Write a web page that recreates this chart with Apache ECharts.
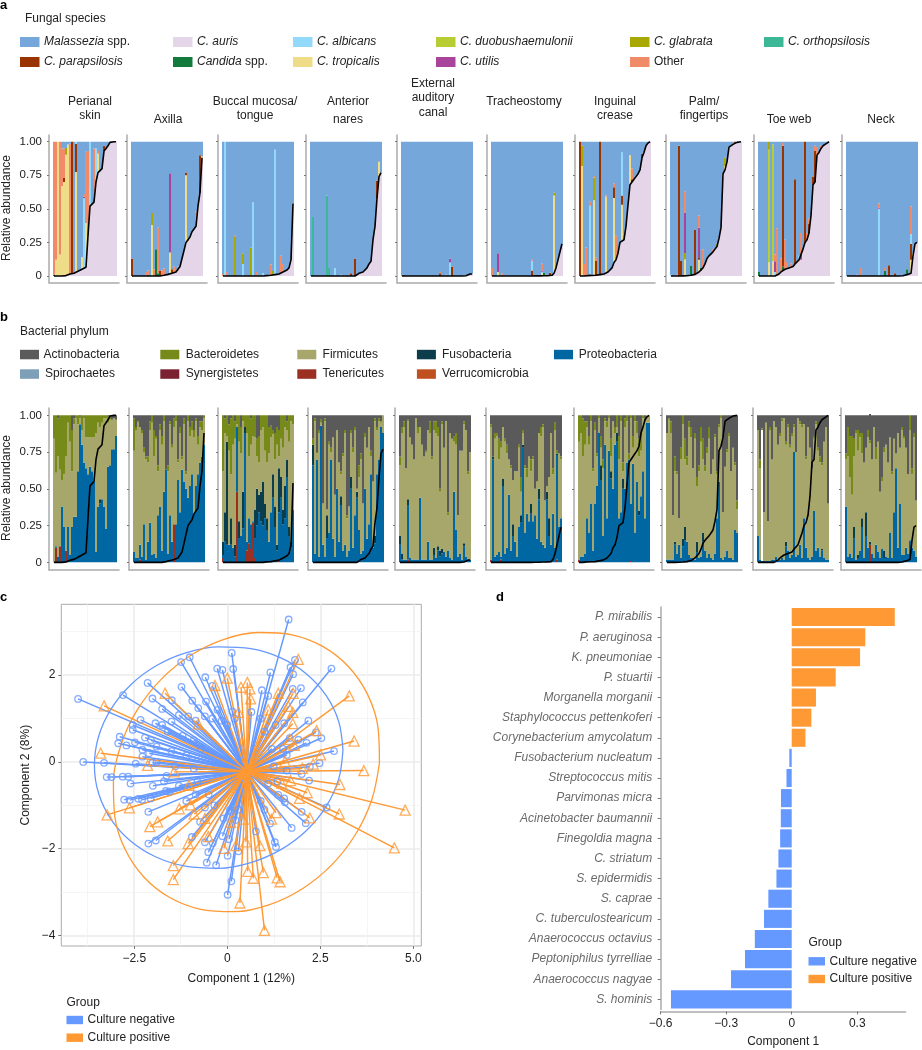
<!DOCTYPE html>
<html><head><meta charset="utf-8">
<style>html,body{margin:0;padding:0;background:#fff}#c{width:922px;height:1050px}</style>
<script src="https://cdn.jsdelivr.net/npm/echarts@6/dist/echarts.min.js"></script>
</head><body><div id="c"></div>
<script>
// ---------- DATA ----------
const siteNames = ['Perianal skin','Axilla','Buccal mucosa/tongue','Anterior nares','External auditory canal','Tracheostomy','Inguinal crease','Palm/fingertips','Toe web','Neck'];
// C. auris abundance per sample (sorted)
const aurisPerianal=[0,0,0,0,0,0,.003,.01,.015,.02,.02,.025,.035,.04,.05,.06,.065,.30,.52,.53,.55,.70,.77,.78,.80,.93,.95,.97,.995,1,1,1];
const aurisAxilla=[0,0,0,0,0,0,0,0,0,0,0,0,0,0,0,.003,.005,.008,.012,.015,.02,.03,.03,.04,.07,.13,.19,.25,.26,.29,.33,.35,.37,.52,.62,.88];
const aurisBuccal=[0,0,0,0,0,0,0,0,0,0,0,0,0,0,0,0,0,0,0,0,0,0,.003,.005,.005,.008,.01,.012,.015,.02,.03,.035,.045,.06,.12,.54];
const aurisNares=[0,0,0,0,0,0,0,0,0,0,0,0,0,0,0,0,0,0,0,0,0,0,0,.005,.02,.02,.03,.04,.06,.09,.11,.27,.37,.58,.74,.77];
const aurisEar=[0,0,0,0,0,0,0,0,0,0,0,0,0,0,0,0,0,0,0,0,0,0,0,0,0,0,0,0,0,0,0,0,.002,.008,.015,.015];
const aurisTrach=[0,0,0,0,0,0,0,0,0,0,0,0,0,0,0,0,0,0,0,0,0,0,.001,.001,.001,.001,.002,.002,.003,.004,.005,.02,.06,.12,.18,.24];
const aurisGroin=[0,0,0,.002,.003,.003,.004,.004,.005,.007,.01,.012,.015,.02,.03,.04,.06,.10,.12,.17,.25,.26,.27,.37,.53,.68,.70,.72,.74,.76,.79,.88,.92,.97,.99,1];
const aurisPalm=[0,0,0,0,0,.001,.001,.002,.002,.003,.005,.008,.012,.02,.03,.04,.06,.09,.13,.15,.16,.18,.20,.22,.28,.36,.76,.79,.85,.96,.97,.98,.99,.995,1,1];
const aurisToe=[0,0,0,0,0,0,0,0,0,.005,.015,.03,.04,.05,.055,.06,.065,.07,.09,.10,.12,.12,.20,.25,.27,.32,.45,.68,.70,.90,.92,.95,.97,.98,.99,1];
const aurisNeck=[0,0,0,0,0,0,0,0,0,0,0,0,0,0,0,0,0,0,0,0,0,0,0,0,0,0,0,0,.002,.005,.01,.015,.02,.15,.24,.25];
// other fungal segments per sample: [sample, species code, abundance]
const fungiPerianal=[[0,'Ca',.01],[0,'Ot',.99],[1,'Tr',.12],[1,'Ot',.88],[2,'Tr',1],[3,'Tr',.16],[3,'Ot',.84],[4,'Tr',.67],[4,'Ot',.28],[5,'Tr',.70],[5,'Cp',.03],[5,'Ot',.22],[6,'Tr',.9],[6,'Gl',.05],[7,'Tr',.97],[8,'Ot',.97],[9,'Cp',.98],[11,'Tr',.75],[11,'Cp',.21],[11,'Al',.02],[14,'Tr',.09],[15,'Al',.52],[15,'Ut',.01],[15,'Ot',.02],[16,'Tr',.33],[16,'Ot',.53],[17,'Ot',.62],[17,'Gl',.01],[18,'Al',.48],[20,'Ot',.40],[21,'Al',.25],[22,'Tr',.14],[22,'Ot',.02],[25,'Cp',.04]];
const fungiAxilla=[[0,'Cp',.13],[7,'Ot',.03],[8,'Ot',.03],[8,'Ca',.01],[10,'Tr',.38],[10,'Gl',.09],[11,'Ot',.05],[12,'Ca',.20],[13,'Ca',.02],[13,'Ot',.34],[14,'Cp',.04],[15,'Ot',.04],[16,'Ot',.05],[19,'Tr',.16],[19,'Ut',.59],[20,'Cp',.03],[21,'Ot',.04],[23,'Ot',.03],[27,'Tr',.50],[27,'Cp',.02],[28,'Ot',.02],[32,'Ot',.11],[34,'Cp',.28],[35,'Tr',.01]];
const fungiBuccal=[[0,'Ot',.015],[1,'Al',1],[2,'Ot',.03],[6,'Gl',.29],[6,'Ot',.01],[10,'Al',.09],[10,'Gl',.08],[14,'Gl',.21],[15,'Al',.55],[17,'Ot',.03],[20,'Al',.02],[24,'Ot',.08],[25,'Gl',.03],[26,'Al',.93],[29,'Ot',.13],[30,'Ot',.06]];
const fungiNares=[[1,'Or',.44],[8,'Or',.60],[9,'Or',.06],[12,'Al',.06],[15,'Al',.01],[17,'Ot',.005],[20,'Cp',.02],[22,'Cp',.13],[33,'Cp',.13],[34,'Tr',.11]];
const fungiEar=[[1,'Cp',.01],[19,'Cp',.02],[19,'Ot',.01],[22,'Ot',.01],[24,'Al',.10],[24,'Ut',.03],[25,'Cp',.07],[25,'Ot',.005]];
const fungiTrach=[[0,'Ot',.06],[3,'Tr',.03],[3,'Ut',.14],[5,'Ot',.02],[20,'Cp',.04],[20,'Al',.07],[20,'Ot',.01],[25,'Tr',.02],[25,'Al',.01],[25,'Ut',.01],[25,'Ot',.05],[26,'Ca',.02],[27,'Cp',.01],[29,'Cp',.02],[31,'Tr',.58],[31,'Gl',.02]];
const fungiGroin=[[0,'Cp',1],[1,'Tr',.82],[1,'Gl',.15],[2,'Ot',.09],[3,'Ot',.21],[5,'Al',.51],[5,'Cp',.01],[5,'Ot',.03],[7,'Tr',.56],[7,'Gl',.17],[7,'Ot',.01],[8,'Cp',.11],[8,'Ot',.02],[10,'Cp',1],[13,'Tr',.57],[13,'Ot',.01],[17,'Tr',.48],[17,'Cp',.08],[17,'Ot',.03],[18,'Ot',.18],[21,'Tr',.27],[21,'Cp',.07],[21,'Al',.32],[24,'Ot',.05],[25,'Tr',.22],[26,'Ot',.08],[26,'Cp',.02],[31,'Cp',.03]];
const fungiPalm=[[0,'Al',.01],[3,'Ot',.01],[4,'Cp',.97],[5,'Cp',.11],[7,'Tr',.12],[7,'Gl',.05],[7,'Ut',.30],[7,'Ot',.16],[10,'Ca',.07],[12,'Cp',.33],[14,'Tr',.09],[14,'Cp',.02],[14,'Ut',.22],[14,'Ot',.09],[15,'Ca',.02],[16,'Ot',.14],[21,'Ot',.02],[23,'Gl',.02],[27,'Tr',.03],[27,'Gl',.06],[32,'Cp',.01]];
const fungiToe=[[0,'Ca',.03],[5,'Tr',.10],[5,'Du',.84],[5,'Gl',.06],[7,'Tr',.10],[7,'Al',.01],[7,'Du',.87],[8,'Al',.03],[8,'Ut',.08],[8,'Ot',.05],[9,'Ot',.35],[11,'Ot',.10],[12,'Ca',.03],[12,'Cp',.90],[12,'Ot',.02],[13,'Ot',.22],[14,'Ot',.05],[16,'Ot',.03],[18,'Cp',.63],[20,'Al',.03],[21,'Ut',.04],[21,'Ot',.16],[23,'Cp',.75],[24,'Ot',.05],[25,'Cp',.07],[25,'Ot',.04],[27,'Cp',.06],[28,'Cp',.23],[28,'Ot',.04],[29,'Ot',.06],[31,'Ot',.02]];
const fungiNeck=[[5,'Ot',.01],[7,'Ot',.06],[16,'Al',.50],[16,'Ut',.01],[16,'Ot',.03],[19,'Ca',.04],[19,'Ot',.02],[21,'Cp',.08],[22,'Ut',.01],[24,'Cp',.02],[30,'Ca',.04],[32,'Tr',.10],[32,'Cp',.12],[32,'Al',.07],[32,'Ot',.21],[33,'Tr',.02]];
const fungalSpecies=[['Au','C. auris','#E4D5E8'],['Ca','Candida spp.','#127A3A'],['Or','C. orthopsilosis','#3CB896'],['Tr','C. tropicalis','#EEDC88'],['Cp','C. parapsilosis','#993300'],['Al','C. albicans','#92D9FB'],['Du','C. duobushaemulonii','#B8CC33'],['Gl','C. glabrata','#A8A800'],['Ut','C. utilis','#A8449A'],['Ot','Other','#F08A68'],['Ma','Malassezia spp.','#75A7DA']];

// bacterial: top of Proteobacteria, Firmicutes, Bacteroidetes per sample (%); Actinobacteria fills the rest
const protPerianal=[0,11,4,11,38,24,8,24,5,24,31,31,62,94,80,68,64,60,65,62,55,7,38,43,43,38,23,65,66,77,77,86];
const firmPerianal=[84,61,72,63,56,60,72,95,82,62,94,98,94,98,90,98,85,85,85,85,85,88,95,92,95,98,98,95,97,97,98,97];
const bactPerianal=[100,100,98,100,100,100,100,100,100,90,98,100,100,99,100,100,100,100,100,100,100,100,100,100,100,100,100,99,99,97,98,97];
const protAxilla=[7,3,3,12,4,26,2,14,27,5,6,3,32,38,8,48,63,6,32,14,26,26,56,34,63,55,50,44,52,60,33,52,60,68,72,80];
const firmAxilla=[76,90,95,92,88,75,70,68,90,95,72,84,62,90,80,96,58,62,94,78,92,96,68,88,70,94,60,96,86,90,85,96,80,92,90,98];
const bactAxilla=[98,92,96,92,90,78,72,72,96,100,90,86,66,94,86,100,60,66,96,80,98,100,70,92,72,98,62,100,92,96,90,98,86,96,96,100];
const protBuccal=[14,34,82,12,30,10,12,92,28,18,48,92,14,30,26,28,36,50,46,48,55,40,30,14,34,60,38,12,64,58,36,52,70,24,14,36];
const firmBuccal=[62,88,86,76,60,80,84,94,82,74,96,84,88,72,80,86,85,72,68,90,92,76,68,74,85,87,70,80,72,84,78,92,90,82,96,94];
const bactBuccal=[100,98,100,94,98,100,96,100,100,92,100,100,100,100,98,100,100,84,86,100,100,100,100,92,93,90,88,92,90,100,100,100,96,100,100,100];
const protNares=[80,6,70,4,93,12,4,32,20,70,16,4,50,14,45,8,12,4,8,58,10,32,48,22,6,8,50,16,26,60,10,18,60,70,92,88];
const firmNares=[80,96,74,88,95,40,96,36,80,75,85,46,90,68,60,72,88,30,38,88,75,90,50,58,70,40,85,78,92,72,55,96,90,96,95,100];
const bactNares=[84,98,75,90,97,40,98,36,82,78,85,46,90,68,62,74,90,32,38,90,78,92,50,66,74,40,88,78,92,76,55,98,92,98,96,100];
const protEar=[18,6,2,2,43,3,2,2,2,2,44,2,2,2,14,2,2,10,3,11,8,9,7,4,8,3,2,48,22,4,6,2,13,4,2,2];
const firmEar=[66,88,92,64,96,85,80,70,98,88,92,80,72,75,90,88,70,90,88,86,48,94,78,96,32,88,84,82,80,32,76,76,94,90,60,75];
const bactEar=[72,92,96,64,97,85,80,70,98,92,92,80,72,76,90,96,72,96,96,92,50,96,78,96,34,88,84,86,88,32,76,76,96,90,62,75];
const protTrach=[2,72,4,5,7,4,57,6,10,46,8,26,14,4,24,32,80,20,33,28,40,28,32,16,50,14,12,10,48,30,12,33,10,74,24,30];
const firmTrach=[92,72,84,86,70,78,92,82,74,70,64,56,62,62,78,48,88,64,58,72,62,70,50,55,88,86,92,42,52,58,88,60,90,74,74,70];
const bactTrach=[94,72,88,88,84,82,92,84,80,70,66,56,62,62,80,58,90,66,64,72,70,72,50,55,88,92,94,42,52,58,88,64,95,76,74,72];
const protGroin=[2,4,4,6,30,20,40,8,40,52,88,66,18,80,30,76,62,50,80,88,30,34,57,50,68,70,40,67,20,55,35,45,62,30,95,95];
const firmGroin=[82,88,72,80,92,80,96,62,90,72,98,78,64,96,92,98,72,96,88,92,70,96,62,92,96,70,98,78,96,88,72,76,98,96,100,100];
const bactGroin=[100,100,98,96,96,86,100,64,95,74,100,86,70,98,96,100,84,96,92,100,86,100,68,98,100,74,100,86,100,96,84,86,100,98,100,100];
const protPalm=[2,2,2,2,14,6,12,3,16,24,14,5,3,3,2,14,3,4,20,8,3,6,3,2,6,30,55,3,2,4,8,3,3,2,22,20];
const firmPalm=[88,97,88,32,62,60,30,70,94,70,66,92,85,64,84,52,62,82,70,62,74,84,60,70,85,60,92,98,34,65,75,86,62,78,66,36];
const bactPalm=[88,98,96,32,72,62,30,78,100,84,72,96,92,64,88,58,66,92,84,66,78,92,60,70,87,62,94,100,34,65,77,88,62,78,68,42];
const protToe=[18,2,1,1,1,1,1,2,2,4,1,2,3,2,14,8,3,5,75,4,5,12,3,30,10,3,2,4,35,8,10,4,9,3,2,2];
const firmToe=[90,64,90,34,95,28,90,70,96,92,80,86,96,98,80,92,78,86,92,75,98,94,92,94,70,92,78,64,84,94,76,68,66,82,92,40];
const bactToe=[90,70,91,34,95,28,92,70,96,92,80,88,98,98,82,94,80,88,94,75,98,96,94,94,72,92,78,64,86,96,78,72,68,82,92,40];
const protNeck=[38,4,6,3,24,2,5,8,30,3,34,10,13,6,3,12,7,3,9,8,4,3,20,3,34,64,10,40,5,5,10,6,15,10,8,4];
const firmNeck=[70,72,58,46,72,88,76,85,74,68,78,85,80,70,92,70,82,48,55,75,80,68,85,60,84,74,88,78,90,84,78,60,90,60,85,42];
const bactNeck=[74,92,86,86,84,90,90,88,88,68,78,90,82,70,92,78,82,48,58,78,80,68,85,62,84,74,88,78,92,86,78,60,100,64,88,42];
// sparse minor phyla: [sample, %] ; Fusobacteria sit on top of the Proteobacteria block, red phyla at the base
const fusoBySite=[[[23,3]],[],[[0,9],[1,20],[2,70],[4,18],[6,8],[8,12],[10,25],[11,4],[16,20],[17,25],[18,12],[19,20],[20,30],[21,10],[22,8],[25,16],[26,14],[27,4],[28,30],[29,14],[30,10],[31,22],[32,12],[33,6],[34,4]],[[0,14],[7,16],[14,6],[19,8],[22,4],[31,5]],[[0,6],[1,4],[4,4],[17,5],[19,3],[20,4],[21,3],[32,2]],[[1,2],[6,5],[11,8],[15,5],[16,2],[20,7],[24,7],[29,12],[28,5],[33,1]],[[11,10],[16,5],[19,6],[22,7],[30,3]],[[4,2],[8,5],[9,9],[15,7],[18,6]],[[14,3],[32,1]],[[4,8],[6,2],[8,6],[10,16],[12,2],[19,5]]];
const redBySite=[[[1,10],[3,11],[6,8]],[[3,2],[20,26]],[[0,3],[7,48],[12,8],[13,13],[14,9],[15,27],[16,3],[28,2]],[],[[4,2]],[[0,2],[5,2],[33,2]],[[0,2],[26,1]],[],[],[[12,12]]];
// samples whose Firmicutes band is blank in the source figure: [site, sample]
const blankBands=[[8,2]];
const bacterialPhyla=[['Tenericutes','#9A2F22'],['Proteobacteria','#0067A3'],['Fusobacteria','#0B3D4C'],['Firmicutes','#A7A76B'],['Bacteroidetes','#768A1A'],['Actinobacteria','#5A5A5A']];

// panel c
const raysCentre=[.52,-.22];
const negativeScores=[[1.65,3.28],[.12,2.51],[-1.01,2.41],[-1.24,2.30],[-.27,2.15],[-.13,2.12],[.16,2.14],[1.82,2.35],[1.70,2.18],[2.80,2.15],[1.77,2.02],[1.16,2.06],[-.59,1.95],[-2.14,1.82],[-1.23,1.73],[-.40,1.75],[.93,1.65],[1.76,1.68],[1.98,1.70],[-2.80,1.54],[-4.01,1.45],[-2.01,1.46],[-1.49,1.42],[-.94,1.41],[-.57,1.39],[1.10,1.52],[2.03,1.37],[-1.75,1.22],[-.78,1.24],[-.26,1.20],[.14,1.16],[-1.30,1.08],[-2.33,.97],[-1.50,.93],[-2.54,.85],[-1.93,.89],[-2.54,.74],[2.18,.95],[1.53,.89],[2.38,.68],[-2.89,.58],[-2.21,.56],[2.53,.55],[-2.93,.43],[-2.71,.38],[-2.48,.45],[1.68,.55],[1.91,.51],[2.13,.44],[-2.28,.28],[-2.28,.12],[2.87,.25],[1.60,.16],[-3.87,0],[-3.31,-.02],[-2.46,-.04],[-2.01,-.02],[2.48,-.03],[2.22,-.11],[2.00,-.28],[-3.24,-.35],[-3.11,-.35],[-2.81,-.34],[-2.66,-.34],[-2.60,-.50],[-1.63,-.32],[2.20,-.43],[-2.77,-.87],[-2.62,-.88],[-2.39,-.85],[-2.29,-.87],[-2.06,-.84],[-1.65,-.67],[-2.12,-1.15],[1.37,-.76],[1.53,-.84],[1.55,-.93],[2.67,-1.05],[2.00,-1.15],[2.11,-1.41],[1.73,-1.52],[1.15,-1.42],[-.73,-1.38],[.22,-1.34],[.07,-1.11],[.77,-1.60],[-.95,-1.73],[-.13,-1.71],[.05,-1.78],[-1.92,-1.81],[-2.12,-1.88],[-.60,-1.85],[-.39,-1.87],[1.28,-1.85],[1.31,-1.96],[.30,-2.06],[-.51,-2.08],[.01,-2.16],[-.55,-2.32],[-.30,-2.38],[.11,-2.75],[.01,-3.06],[-1.05,1.05],[-.85,.95],[-.6,1.05],[-.4,1.0],[-.15,.95],[0,.85],[-1.6,.7],[-1.2,.6],[-.9,.5],[-1.9,.35],[-1.5,.25],[-1.1,.15],[-1.9,0],[-1.4,-.1],[-.9,-.15],[-1.7,-.45],[-1.3,-.55],[-.8,-.45],[-1.55,-.68],[-1.1,-.9],[-.85,-.75],[-.6,-1.05],[-.35,-1.0],[-.5,-.75],[-.1,-1.3],[.1,-1.15],[.3,-1.1],[1.0,.7],[1.3,.85],[1.2,.3],[1.5,.3],[1.25,-.1],[1.6,-.2],[1.1,-.5],[1.35,-.45],[.9,-.9],[1.0,-1.1],[.9,1.0],[.65,1.15],[.2,1.0],[-.7,.3],[-2.05,.5],[-2.1,.2],[-2.0,-.55],[-1.75,.85]];
const positiveScores=[[1.91,2.36],[0,1.93],[.54,1.83],[-.33,1.76],[.37,1.72],[.61,1.68],[-1.67,1.58],[3.28,1.52],[-3.31,1.29],[1.37,1.58],[1.77,1.58],[.63,1.45],[1.64,1.28],[1.76,1.14],[.30,1.14],[1.10,1.20],[1.76,.88],[-.78,.87],[2.40,.72],[3.41,.48],[1.68,.52],[1.80,.38],[-3.40,.20],[2.51,.16],[1.55,.01],[-2.14,-.08],[2.31,-.05],[2.02,-.15],[-1.43,-.23],[3.67,-.20],[3.03,-.52],[1.70,-.43],[1.46,-.49],[-1.03,-.54],[2.15,-.71],[1.94,-.84],[4.78,-1.11],[-2.63,-1.06],[-3.23,-1.22],[-1.29,-1.08],[-.99,-.99],[3.01,-1.20],[1.31,-1.17],[2.22,-1.29],[-.89,-1.20],[1.19,-1.32],[-1.87,-1.38],[-2.08,-1.49],[-.60,-1.30],[.09,-1.39],[.43,-1.32],[4.49,-1.98],[-1.60,-1.82],[-1.05,-1.88],[-.51,-1.72],[.50,-1.84],[.23,-1.93],[.88,-1.93],[-.09,-1.99],[-1.45,-2.39],[-1.45,-2.71],[.55,-2.52],[.97,-2.55],[.70,-2.68],[1.34,-2.67],[1.42,-2.76],[.34,-3.25],[1.00,-3.88]];
const negativeEllipse=[[3.11,.275],[2.996,.929],[2.66,1.527],[2.13,2.027],[1.44,2.396],[.635,2.608],[-.23,2.65],[-1.095,2.518],[-1.90,2.22],[-2.59,1.779],[-3.12,1.223],[-3.456,.591],[-3.57,-.075],[-3.456,-.729],[-3.12,-1.327],[-2.59,-1.827],[-1.90,-2.196],[-1.095,-2.408],[-.23,-2.45],[.635,-2.318],[1.44,-2.02],[2.13,-1.579],[2.66,-1.023],[2.996,-.391],[3.11,.275]];
const positiveEllipse=[[4.09,-.025],[4.05,.80],[3.77,1.555],[3.266,2.186],[2.576,2.654],[1.745,2.925],[.83,2.98],[-.107,2.817],[-1.0,2.444],[-1.79,1.89],[-2.423,1.191],[-2.856,.395],[-3.06,-.445],[-3.02,-1.271],[-2.739,-2.025],[-2.236,-2.656],[-1.546,-3.124],[-.715,-3.395],[.2,-3.45],[1.137,-3.287],[2.03,-2.914],[2.82,-2.36],[3.453,-1.661],[3.886,-.865],[4.09,-.025]];
// panel d
const taxa=['P. mirabilis','P. aeruginosa','K. pneumoniae','P. stuartii','Morganella morganii','Staphylococcus pettenkoferi','Corynebacterium amycolatum','Fusobacterium nucleatum','Streptococcus mitis','Parvimonas micra','Acinetobacter baumannii','Finegoldia magna','C. striatum','S. epidermidis','S. caprae','C. tuberculostearicum','Anaerococcus octavius','Peptoniphilus tyrrelliae','Anaerococcus nagyae','S. hominis'];
const loadings=[.472,.337,.313,.2015,.111,.09,.063,-.011,-.024,-.049,-.05,-.053,-.061,-.07,-.107,-.127,-.169,-.214,-.278,-.553];
const tickLabelsA=[0,.25,.5,.75,1];
const ticksCX=[-2.5,0,2.5,5], ticksCY=[-4,-2,0,2], ticksDX=[-.6,-.3,0,.3];
// ---------- STYLE / LAYOUT ----------
const FONT='"Liberation Sans",Arial,sans-serif', BLUE='#6699FF', ORANGE='#FF9933', AXIS='#ABABAB', INK='#222';
const aurisAll=[aurisPerianal,aurisAxilla,aurisBuccal,aurisNares,aurisEar,aurisTrach,aurisGroin,aurisPalm,aurisToe,aurisNeck];
const fungiAll=[fungiPerianal,fungiAxilla,fungiBuccal,fungiNares,fungiEar,fungiTrach,fungiGroin,fungiPalm,fungiToe,fungiNeck];
const protAll=[protPerianal,protAxilla,protBuccal,protNares,protEar,protTrach,protGroin,protPalm,protToe,protNeck];
const firmAll=[firmPerianal,firmAxilla,firmBuccal,firmNares,firmEar,firmTrach,firmGroin,firmPalm,firmToe,firmNeck];
const bactAll=[bactPerianal,bactAxilla,bactBuccal,bactNares,bactEar,bactTrach,bactGroin,bactPalm,bactToe,bactNeck];
const leftsA=[53,131,222,310,401,491,579,670,758,846], leftsB=[53,133,222,312,399,490,578,666,757,845];
const grids=[],xAxes=[],yAxes=[],series=[];
function stripPanel(fillLeft,fillW,n,top,h,first){
  const padR=first===true?1:2, idx=grids.length;
  grids.push({left:fillLeft-4,top,width:fillW+4+padR*2,height:h,containLabel:false});
  const cats=[]; for(let i=0;i<n+2+padR;i++)cats.push(i);
  xAxes.push({gridIndex:idx,type:'category',data:cats,boundaryGap:true,axisLine:{onZero:false,lineStyle:{color:AXIS,width:1.5}},axisTick:{show:false},axisLabel:{show:false},splitLine:{show:false}});
  yAxes.push({gridIndex:idx,type:'value',min:-0.05,max:1.05,axisLine:{show:true,onZero:false,lineStyle:{color:AXIS,width:1.5}},
    axisTick:{show:true,length:2,customValues:tickLabelsA,lineStyle:{color:'#777',width:1}},
    axisLabel:{show:first===true,customValues:tickLabelsA,margin:7,fontFamily:FONT,fontSize:11.5,color:INK,formatter:v=>v===0?'0':v.toFixed(2)},splitLine:{show:false}});
  return {idx,padL:2,padR};
}
function pad(vals,p){return [...Array(p.padL).fill(null),...vals,...Array(p.padR).fill(null)];}
function blackLine(p,name,auris){
  series.push({name,type:'line',xAxisIndex:p.idx,yAxisIndex:p.idx,data:pad(auris,p),showSymbol:false,symbol:'none',z:5,silent:true,lineStyle:{color:'#000',width:1.6},connectNulls:false});
}
siteNames.forEach((site,s)=>{
  const auris=aurisAll[s],n=auris.length;
  const p=stripPanel(leftsA[s],s===0?64:72,n,135,147.7,s===0);
  const cols={}; fungalSpecies.forEach(f=>cols[f[0]]=Array(n).fill(0));
  cols.Au=auris.slice();
  // fixed stacking order, clamped so that a sample never goes above 1
  for(let i=0;i<n;i++){
    let run=auris[i];
    const extras=fungiAll[s].filter(e=>e[0]===i);
    fungalSpecies.forEach(f=>{ if(f[0]==='Au'||f[0]==='Ma')return;
      extras.filter(e=>e[1]===f[0]).forEach(e=>{const v=Math.min(e[2],1-run); cols[f[0]][i]+=Math.max(v,0); run+=Math.max(v,0);});
    });
    cols.Ma[i]=Math.max(1-run,0);
  }
  fungalSpecies.forEach(f=>{
    series.push({name:f[1],type:'bar',stack:'a'+s,xAxisIndex:p.idx,yAxisIndex:p.idx,barWidth:'100%',barCategoryGap:'0%',silent:true,data:pad(cols[f[0]],p),itemStyle:{color:f[2]}});
  });
  blackLine(p,'C. auris line',auris);
});
siteNames.forEach((site,s)=>{
  const auris=aurisAll[s],n=auris.length;
  const p=stripPanel(leftsB[s],s===0?64:72,n,408,161.7,s===0);
  const red=Array(n).fill(0),fuso=Array(n).fill(0);
  redBySite[s].forEach(e=>red[e[0]]=e[1]); fusoBySite[s].forEach(e=>fuso[e[0]]=e[1]);
  const P=protAll[s],F=firmAll[s],B=bactAll[s];
  const cols={Tenericutes:[],Proteobacteria:[],Fusobacteria:[],Firmicutes:[],Bacteroidetes:[],Actinobacteria:[]};
  for(let i=0;i<n;i++){
    const f=Math.max(F[i],P[i]),b=Math.max(B[i],f);
    cols.Tenericutes.push(red[i]/100);
    cols.Proteobacteria.push(Math.max(P[i]-red[i]-fuso[i],0)/100);
    cols.Fusobacteria.push(fuso[i]/100);
    const blank=blankBands.some(q=>q[0]===s&&q[1]===i);
    cols.Firmicutes.push(blank?{value:(f-P[i])/100,itemStyle:{color:'#fff'}}:(f-P[i])/100);
    cols.Bacteroidetes.push((b-f)/100);
    cols.Actinobacteria.push((100-b)/100);
  }
  bacterialPhyla.forEach(ph=>{
    series.push({name:ph[0],type:'bar',stack:'b'+s,xAxisIndex:p.idx,yAxisIndex:p.idx,barWidth:'100%',barCategoryGap:'0%',silent:true,data:pad(cols[ph[0]],p),itemStyle:{color:ph[1]}});
  });
  blackLine(p,'C. auris line',auris);
});
// panel c
const ci=grids.length;
grids.push({left:61.3,top:604.3,width:360,height:341.7,show:true,borderColor:AXIS,borderWidth:1,backgroundColor:'#fff'});
const gridC={color:'#EBEBEB',width:1.6}, minorC={color:'#F2F2F2',width:.8};
xAxes.push({gridIndex:ci,type:'value',min:-4.46,max:5.215,name:'Component 1 (12%)',nameLocation:'middle',nameGap:27,nameTextStyle:{fontFamily:FONT,fontSize:12,color:INK},
  axisLine:{show:false,onZero:false},axisTick:{show:true,length:3,customValues:ticksCX,lineStyle:{color:'#777'}},
  axisLabel:{customValues:ticksCX,margin:7,fontFamily:FONT,fontSize:12,color:INK,formatter:v=>v===0?'0':(v<0?'\u2212':'')+Math.abs(v).toFixed(1)},
  splitLine:{show:true,lineStyle:gridC}});
yAxes.push({gridIndex:ci,type:'value',min:-4.24,max:3.63,name:'Component 2 (8%)',nameLocation:'middle',nameGap:30,nameTextStyle:{fontFamily:FONT,fontSize:12,color:INK},
  axisLine:{show:false,onZero:false},axisTick:{show:true,length:3,customValues:ticksCY,lineStyle:{color:'#777'}},
  axisLabel:{customValues:ticksCY,margin:6,fontFamily:FONT,fontSize:12,color:INK,formatter:v=>v===0?'0':(v<0?'\u2212':'')+Math.abs(v)},
  splitLine:{show:true,lineStyle:gridC}});
xAxes.push({gridIndex:ci,type:'value',min:-4.46,max:5.215,axisLine:{show:false,onZero:false},axisTick:{show:false,customValues:[-3.75,-1.25,1.25,3.75]},axisLabel:{show:false,customValues:[-3.75,-1.25,1.25,3.75]},splitLine:{show:true,lineStyle:minorC}});
yAxes.push({gridIndex:ci,type:'value',min:-4.24,max:3.63,axisLine:{show:false,onZero:false},axisTick:{show:false,customValues:[-3,-1,1,3]},axisLabel:{show:false,customValues:[-3,-1,1,3]},splitLine:{show:true,lineStyle:minorC}});
function biplot(name,pts,ell,col,sym,size){
  series.push({name,type:'lines',coordinateSystem:'cartesian2d',xAxisIndex:ci,yAxisIndex:ci,z:3,silent:true,lineStyle:{color:col,width:1.45,opacity:1},data:pts.map(q=>({coords:[raysCentre,q]}))});
  series.push({name,type:'scatter',xAxisIndex:ci,yAxisIndex:ci,z:3,silent:true,symbol:sym,symbolSize:size,itemStyle:{color:'rgba(0,0,0,0)',borderColor:col,borderWidth:1.3},data:pts});
  series.push({name:name+' ellipse',type:'line',xAxisIndex:ci,yAxisIndex:ci,z:3,silent:true,smooth:.33,showSymbol:false,symbol:'none',lineStyle:{color:col,width:1.3},data:ell});
}
biplot('Culture negative',negativeScores,negativeEllipse,BLUE,'circle',6.5);
biplot('Culture positive',positiveScores,positiveEllipse,ORANGE,'triangle',10);
// panel d
const di=grids.length, dx=xAxes.length, dy=yAxes.length;
grids.push({left:660.7,top:607,width:245,height:402.4});
xAxes.push({gridIndex:di,type:'value',min:-.6,max:.522,offset:2,name:'Component 1',nameLocation:'middle',nameGap:24,nameTextStyle:{fontFamily:FONT,fontSize:12,color:INK},
  axisLine:{show:true,onZero:false,lineStyle:{color:AXIS,width:1.5}},axisTick:{show:true,length:3,customValues:ticksDX,lineStyle:{color:'#777'}},
  axisLabel:{customValues:ticksDX,margin:6,fontFamily:FONT,fontSize:12,color:INK,formatter:v=>Math.abs(v)<1e-9?'0':(v<0?'\u2212':'')+Math.abs(v).toFixed(1)},splitLine:{show:false}});
yAxes.push({gridIndex:di,type:'category',inverse:true,data:taxa,axisLine:{show:true,onZero:false,lineStyle:{color:AXIS,width:1.5}},axisTick:{show:true,alignWithLabel:true,length:3,lineStyle:{color:'#777'}},
  axisLabel:{margin:8.5,interval:0,fontFamily:FONT,fontSize:12,fontStyle:'italic',color:'#6A6A6A'},splitLine:{show:false}});
series.push({name:'Culture positive',type:'bar',stack:'d',xAxisIndex:dx,yAxisIndex:dy,barCategoryGap:'10%',silent:true,itemStyle:{color:ORANGE},data:loadings.map(v=>v>0?v:null)});
series.push({name:'Culture negative',type:'bar',stack:'d',xAxisIndex:dx,yAxisIndex:dy,barCategoryGap:'10%',silent:true,itemStyle:{color:BLUE},data:loadings.map(v=>v<0?v:null)});
// ---------- TEXT AND KEYS ----------
const g=[];
function T(x,y,text,o={}){g.push({type:'text',x,y,silent:true,style:Object.assign({text,fontFamily:FONT,fontSize:12,fill:INK,align:'left',verticalAlign:'middle'},o)});}
function R(x,y,w,h,fill){g.push({type:'rect',x,y,silent:true,shape:{x:0,y:0,width:w,height:h},style:{fill}});}
const I={i:{fontStyle:'italic',fontFamily:FONT,fontSize:12,fill:INK},n:{fontFamily:FONT,fontSize:12,fill:INK}};
const keyA=[[20,42,'#75A7DA','{i|Malassezia}{n| spp.}'],[173,42,'#E4D5E8','{i|C. auris}'],[293,42,'#92D9FB','{i|C. albicans}'],[436,42,'#B8CC33','{i|C. duobushaemulonii}'],[630,42,'#A8A800','{i|C. glabrata}'],[764,42,'#3CB896','{i|C. orthopsilosis}'],
 [20,62,'#993300','{i|C. parapsilosis}'],[173,62,'#127A3A','{i|Candida}{n| spp.}'],[293,62,'#EEDC88','{i|C. tropicalis}'],[436,62,'#A8449A','{i|C. utilis}'],[630,62,'#F08A68','{n|Other}']];
keyA.forEach(k=>{R(k[0],k[1]-5,19.5,10,k[2]);T(k[0]+24,k[1],k[3],{rich:I});});
T(25,19,'Fungal species');
const keyB=[[20,354.5,'#5A5A5A','Actinobacteria',43.5],[160.3,354.5,'#768A1A','Bacteroidetes',185.7],[297.3,354.5,'#A7A76B','Firmicutes',322.6],[416.9,354.5,'#0B3D4C','Fusobacteria',442],[554,354.5,'#0067A3','Proteobacteria',578.8],
 [20,374,'#7E9FB8','Spirochaetes',45],[160.3,374,'#7A2230','Synergistetes',185.7],[297.3,374,'#9A2F22','Tenericutes',322.6],[416.9,374,'#C05020','Verrucomicrobia',442]];
keyB.forEach(k=>{R(k[0],k[1]-4.7,19,9.5,k[2]);T(k[4],k[1],k[3]);});
T(20,332,'Bacterial phylum');
[['a',0,5],['b',0,317],['c',0,597],['d',496,597]].forEach(l=>T(l[1],l[2],l[0],{fontWeight:'bold',fontSize:13,fill:'#000'}));
const titles=[[90,[102,116],['Perianal','skin']],[168,[120],['Axilla']],[255,[102,116],['Buccal mucosa/','tongue']],[348,[102,120],['Anterior','nares']],[433,[84,98,113],['External','auditory','canal']],[524,[102],['Tracheostomy']],[615,[102,116],['Inguinal','crease']],[704,[102,116],['Palm/','fingertips']],[789,[120],['Toe web']],[881,[120],['Neck']]];
titles.forEach(t=>t[2].forEach((line,i)=>T(t[0],t[1][i],line,{align:'center'})));
[208,488].forEach(y=>g.push({type:'text',x:7,y,rotation:Math.PI/2,silent:true,style:{text:'Relative abundance',fontFamily:FONT,fontSize:12,fill:INK,align:'center',verticalAlign:'middle'}}));
function groupKey(x,y0,y1,y2){T(x,y0,'Group');R(x,y1-4.2,16.5,8.4,BLUE);T(x+21,y1,'Culture negative');R(x,y2-4.2,16.5,8.4,ORANGE);T(x+21,y2,'Culture positive');}
groupKey(66.5,1002.7,1020,1037.7);
groupKey(808.5,943,961.3,979);
const chart=echarts.init(document.getElementById('c'),null,{renderer:'canvas',width:922,height:1050});
chart.setOption({animation:false,backgroundColor:'#fff',tooltip:{show:false},grid:grids,xAxis:xAxes,yAxis:yAxes,series,graphic:{elements:g}});
</script></body></html>
